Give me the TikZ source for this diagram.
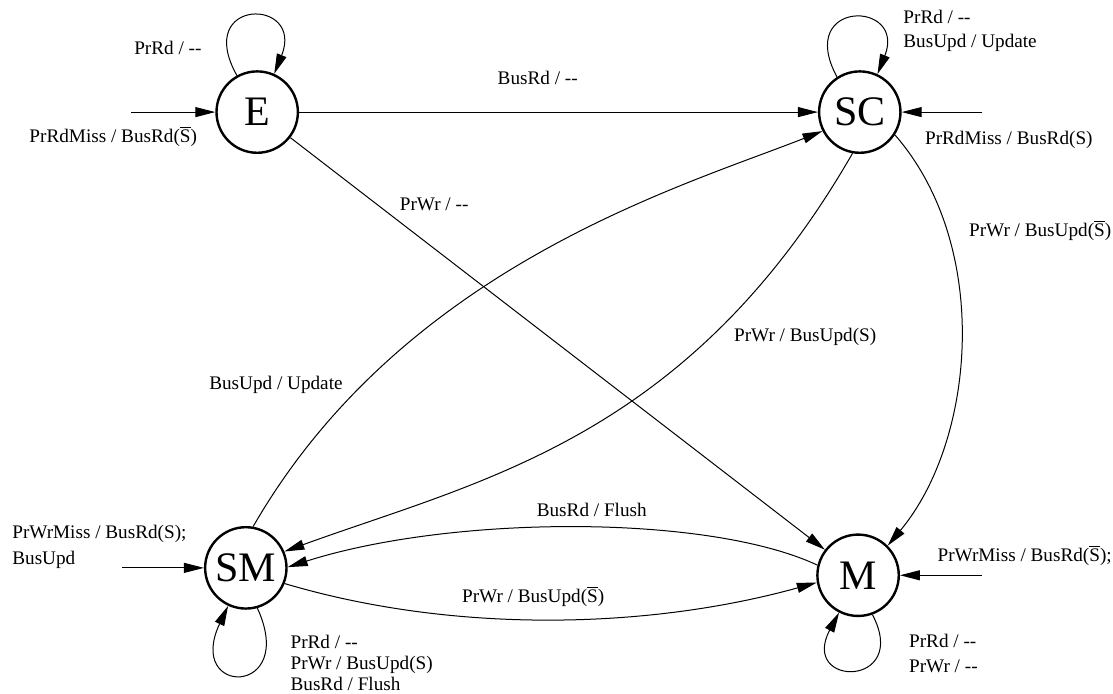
\documentclass[tikz,border=0pt]{standalone}
\usepackage{fontspec}
\setmainfont{Liberation Serif}
\usetikzlibrary{arrows.meta,positioning}
\newcommand{\lblfont}{\fontsize{9.6}{11.5}\selectfont}
\newcommand{\nop}{\mbox{-}\mbox{-}}
\newcommand{\nS}{\smash{$\overline{\hbox{S}}$}}
\tikzstyle{mstate} = [circle, draw, very thick, minimum size=1.43cm, inner sep=0pt, font=\fontsize{21}{25}\selectfont]
\tikzstyle{trans} = [->, >={Triangle[length=10pt,width=5pt]}, line width=0.5pt]
\tikzstyle{lbl} = [inner sep=0pt, font=\lblfont]

\begin{document}
\begin{tikzpicture}
\useasboundingbox (0,0) rectangle (19.56,12.18);

% States
\node[mstate] (E) at (4.52, 10.21) {E};
\node[mstate] (SC) at (15.11, 10.21) {SC};
\node[mstate] (SM) at (4.32, 2.20) {SM};
\node[mstate] (M) at (15.08, 2.07) {M};

% Entry points
\coordinate[left=1.48cm of E] (inE);
\coordinate[right=1.42cm of SC] (inSC);
\coordinate[left=1.44cm of SM] (inSM);
\coordinate[right=1.44cm of M] (inM);

\draw[trans] (inE) -- (E);
\draw[trans] (inSC) -- (SC);
\draw[trans] (inSM) -- (SM);
\draw[trans] (inM) -- (M);

% Transitions
\draw[trans] (E) -- (SC);
\draw[trans] (E) -- (M);
\draw[trans] (SM.80) .. controls (7.08,7.49) and (11.95,8.89) .. (SC.207);
\draw[trans] (SC.260) .. controls (12.09,4.46) and (8.44,3.74) .. (SM.23);
\draw[trans] (SC.-33) .. controls (17.43,7.86) and (17.15,4.45) .. (M.45);
\draw[trans] (M.166) .. controls (12.44,3.15) and (7.93,3.13) .. (SM.1);
\draw[trans] (SM.-22) .. controls (7.94,1.05) and (11.35,1.11) .. (M.190);

% Self loops
\draw[trans] (E.119) .. controls (3.39,12.23) and (5.36,12.23) .. (E.66);
\draw[trans] (SC.123) .. controls (13.97,12.20) and (15.94,12.18) .. (SC.65);
\draw[trans] (SM.-74) .. controls (5.24,-0.07) and (3.25,-0.07) .. (SM.-115);
\draw[trans] (M.-70) .. controls (16.01,0.09) and (14.04,0.09) .. (M.-117);

% Labels
\node[lbl] (lEE) at (2.95, 11.33) {PrRd / \nop};
\node[lbl] (lESC) at (9.45, 10.81) {BusRd / \nop};
\node[lbl] (lEM) at (7.63, 8.59) {PrWr / \nop};
\node[lbl] (lSMSC) at (4.85, 5.41) {BusUpd / Update};
\node[lbl] (lSCSM) at (14.15, 6.26) {PrWr / BusUpd(S)};
\node[lbl] (lSCM) at (18.28, 8.10) {PrWr / BusUpd(\nS)};
\node[lbl] (lMSM) at (10.40, 3.22) {BusRd / Flush};
\node[lbl] (lSMM) at (9.37, 1.67) {PrWr / BusUpd(\nS)};
\node[lbl, anchor=west, align=left] (lSC) at (15.87, 11.63) {PrRd / \nop\\[0.5pt] BusUpd / Update};
\node[lbl, anchor=west, align=left] (lSM) at (5.10, 0.53) {PrRd / \nop\\[-0.8pt] PrWr / BusUpd(S)\\[-0.8pt] BusRd / Flush};
\node[lbl, anchor=west, align=left] (lM) at (15.97, 0.69) {PrRd / \nop\\[0.9pt] PrWr / \nop};

% Entry labels
\node[lbl] (linE) at (1.99, 9.75) {PrRdMiss / BusRd(\nS)};
\node[lbl] (linSC) at (17.73, 9.72) {PrRdMiss / BusRd(S)};
\node[lbl, anchor=west, align=left] (linSM) at (0.21, 2.57) {PrWrMiss / BusRd(S);\\[1.7pt] BusUpd};
\node[lbl, anchor=west] (linM) at (16.47, 2.39) {PrWrMiss / BusRd(\nS);};
\end{tikzpicture}
\end{document}
